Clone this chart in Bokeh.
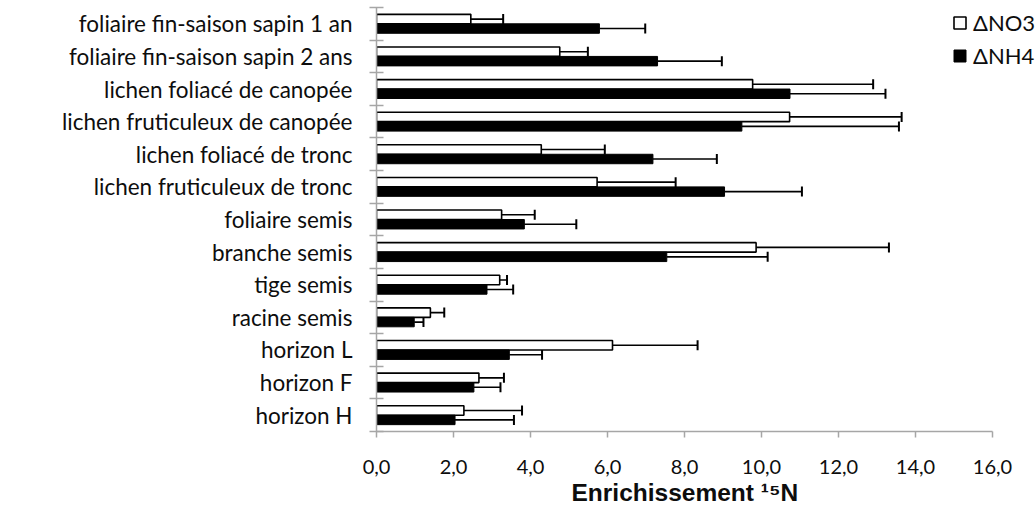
import numpy as np
from bokeh.plotting import figure
from bokeh.models import (ColumnDataSource, Range1d, FixedTicker, Whisker, TeeHead,
                          Legend, LegendItem, BoxAnnotation, Title)
from bokeh.embed import file_html
from bokeh.resources import INLINE

# Sample compartments, listed top to bottom
categories = [
    "foliaire fin-saison sapin 1 an",
    "foliaire fin-saison sapin 2 ans",
    "lichen foliacé de canopée",
    "lichen fruticuleux de canopée",
    "lichen foliacé de tronc",
    "lichen fruticuleux de tronc",
    "foliaire semis",
    "branche semis",
    "tige semis",
    "racine semis",
    "horizon L",
    "horizon F",
    "horizon H",
]

# 15N enrichment after nitrate labelling, with its error
no3 = [2.45, 4.76, 9.77, 10.73, 4.28, 5.73, 3.25, 9.86, 3.20, 1.40, 6.13, 2.66, 2.27]
no3_err = [0.84, 0.73, 3.13, 2.91, 1.65, 2.04, 0.86, 3.45, 0.19, 0.36, 2.21, 0.65, 1.51]

# 15N enrichment after ammonium labelling, with its error
nh4 = [5.79, 7.30, 10.74, 9.49, 7.18, 9.04, 3.84, 7.54, 2.87, 0.98, 3.45, 2.53, 2.04]
nh4_err = [1.19, 1.67, 2.48, 4.08, 1.66, 2.01, 1.35, 2.62, 0.68, 0.24, 0.85, 0.69, 1.53]

series_labels = ["ΔNO3", "ΔNH4"]
x_ticks = [0, 2, 4, 6, 8, 10, 12, 14, 16]
x_tick_labels = ["0,0", "2,0", "4,0", "6,0", "8,0", "10,0", "12,0", "14,0", "16,0"]
x_title = "Enrichissement ¹⁵N"

n = len(categories)
centers = n - 0.5 - np.arange(n)
bar_h = 0.29
off = bar_h / 2

src_no3 = ColumnDataSource(dict(
    y=centers + off, v=np.array(no3), hi=np.array(no3) + np.array(no3_err)))
src_nh4 = ColumnDataSource(dict(
    y=centers - off, v=np.array(nh4), hi=np.array(nh4) + np.array(nh4_err)))

LABEL_FONT = "Lato"
AXIS_GREY = "#a6a6a6"
TEXT = "#0d0d0d"

# frame runs to the right edge so the legend has room; the axis stops at 16
W, H = 1036, 505
LEFT = 376
AXIS_PX = 616
x_max = x_ticks[-1]
x_end = x_max * (W - LEFT) / AXIS_PX

p = figure(width=W, height=H, output_backend="svg", toolbar_location=None,
           x_range=Range1d(0, x_end), y_range=Range1d(0, n),
           min_border_left=LEFT, min_border_right=0, min_border_top=7,
           min_border_bottom=73)
p.outline_line_color = None
p.grid.grid_line_color = None
p.background_fill_color = "white"
p.border_fill_color = "white"

# thin frame line along the left edge of the page
p.add_layout(BoxAnnotation(left=8, right=9.5, top=0, bottom=H,
                           left_units="canvas", right_units="canvas",
                           top_units="canvas", bottom_units="canvas",
                           fill_color="#d4d4d4", fill_alpha=1, line_color=None,
                           level="underlay"))

r_no3 = p.hbar(y="y", right="v", left=0, height=bar_h, source=src_no3,
               fill_color="white", line_color="black", line_width=1.6)
r_nh4 = p.hbar(y="y", right="v", left=0, height=bar_h, source=src_nh4,
               fill_color="black", line_color="black", line_width=1.0)

for src in (src_no3, src_nh4):
    w = Whisker(source=src, base="y", lower="v", upper="hi", dimension="width",
                line_color="black", line_width=1.6, lower_head=None,
                upper_head=TeeHead(size=10, line_color="black", line_width=2))
    p.add_layout(w)

# x axis
xa = p.xaxis[0]
xa.bounds = (0, x_max)
xa.ticker = FixedTicker(ticks=x_ticks)
xa.major_label_overrides = {t: lab for t, lab in zip(x_ticks, x_tick_labels)}
xa.axis_line_color = AXIS_GREY
xa.axis_line_width = 1.5
xa.major_tick_line_color = AXIS_GREY
xa.major_tick_line_width = 1.5
xa.major_tick_out = 6
xa.major_tick_in = 0
xa.minor_tick_line_color = None
xa.major_label_text_font = LABEL_FONT
xa.major_label_text_font_size = "20px"
xa.major_label_text_color = TEXT
xa.major_label_standoff = 22

# x title, centred under the 0-16 axis rather than the wider frame
title_font_px = 24.5
title_width_est = 226
title_offset = AXIS_PX / 2 - title_width_est / 2
p.add_layout(Title(text=x_title, align="left", offset=title_offset, standoff=0,
                   text_font="Liberation Sans", text_font_style="bold",
                   text_font_size=f"{title_font_px}px", text_color=TEXT),
             "below")

# y axis: names at category centres, tick marks at category boundaries
ya = p.yaxis[0]
ya.ticker = FixedTicker(ticks=list(centers), minor_ticks=list(np.arange(n + 1)))
ya.major_label_overrides = {float(c): cat for c, cat in zip(centers, categories)}
ya.axis_line_color = AXIS_GREY
ya.axis_line_width = 1.5
ya.major_tick_line_color = None
ya.major_tick_out = 0
ya.major_tick_in = 0
ya.minor_tick_line_color = AXIS_GREY
ya.minor_tick_line_width = 1.5
ya.minor_tick_out = 7
ya.minor_tick_in = 7
ya.major_label_text_font = LABEL_FONT
ya.major_label_text_font_size = "22.5px"
ya.major_label_text_color = TEXT
ya.major_label_standoff = 17

legend = Legend(items=[LegendItem(label=series_labels[0], renderers=[r_no3]),
                       LegendItem(label=series_labels[1], renderers=[r_nh4])],
                location=(576, 362), orientation="vertical")
legend.border_line_color = None
legend.background_fill_alpha = 0
legend.padding = 0
legend.margin = 0
legend.spacing = 6
legend.glyph_width = 15
legend.glyph_height = 15
legend.label_height = 15
legend.label_standoff = 6
legend.label_text_font = LABEL_FONT
legend.label_text_font_size = "22px"
legend.label_text_color = TEXT
p.add_layout(legend)

open("out.html", "w").write(file_html(p, INLINE))
